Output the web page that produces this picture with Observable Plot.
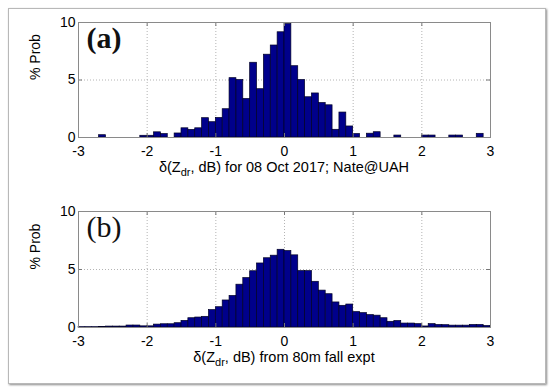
<!DOCTYPE html>
<html><head><meta charset="utf-8">
<script src="https://cdn.jsdelivr.net/npm/d3@7"></script>
<script src="https://cdn.jsdelivr.net/npm/@observablehq/plot@0.6"></script>
<style>
body{margin:0;background:#fff;}
#fig{position:relative;width:550px;height:390px;background:#fff;font-family:"Liberation Sans",Arial,sans-serif;overflow:hidden;}
#border{position:absolute;left:8px;top:8px;width:536px;height:374px;border:1px solid #b8b8b8;box-shadow:1px 1px 2px #8a8a8a;}
.panel{position:absolute;left:0;}
</style></head><body><div id="fig"><div id="border"></div></div>
<script>
const binStart = [-3.0,-2.9,-2.8,-2.7,-2.6,-2.5,-2.4,-2.3,-2.2,-2.1,
  -2.0,-1.9,-1.8,-1.7,-1.6,-1.5,-1.4,-1.3,-1.2,-1.1,
  -1.0,-0.9,-0.8,-0.7,-0.6,-0.5,-0.4,-0.3,-0.2,-0.1,
  0.0,0.1,0.2,0.3,0.4,0.5,0.6,0.7,0.8,0.9,
  1.0,1.1,1.2,1.3,1.4,1.5,1.6,1.7,1.8,1.9,
  2.0,2.1,2.2,2.3,2.4,2.5,2.6,2.7,2.8,2.9];
const probA = [0,0,0,0.2,0,0,0,0,0,0.15,
  0.15,0.45,0.3,0,0.35,0.8,0.66,0.8,1.68,1.33,
  1.7,2.46,5.16,5.0,3.35,6.5,4.2,7.2,8.0,9.15,
  9.86,6.2,5.0,3.5,3.83,3.0,2.8,0.67,2.17,0.96,
  0.3,0,0.33,0.46,0,0,0.17,0,0,0,
  0.17,0.17,0,0,0.17,0.17,0,0,0.32,0];
const probB = [0.03,0.03,0.03,0.04,0.08,0.08,0.08,0.17,0.17,0.1,
  0.1,0.25,0.28,0.28,0.37,0.57,0.8,0.86,0.92,1.5,
  1.75,2.33,2.72,3.69,4.26,4.85,5.52,5.97,6.19,6.7,
  6.59,6.22,4.86,4.86,3.94,3.18,2.87,2.16,1.87,1.98,
  1.33,1.24,1.07,1.02,0.8,0.49,0.56,0.34,0.34,0.29,
  0.09,0.29,0.22,0.2,0.16,0.16,0.16,0.22,0.22,0.13];
const xTicks = [-3,-2,-1,0,1,2,3];
const xGrid = [-2,-1,0,1,2];
const yTicks = [0,5,10];
const yGrid = [5];

function panel(probs, tag, bold, labelRest, top, height, mt, mb) {
  const data = binStart.map((x, i) => ({x1: x, x2: x + 0.1, p: probs[i]})).filter(d => d.p > 0);
  const ml = 78, mr = 60;
  const ph = height - mt - mb;
  const svg = Plot.plot({
    width: 550, height, marginLeft: ml, marginRight: mr, marginTop: mt, marginBottom: mb,
    style: {fontFamily: "'Liberation Sans', Arial, sans-serif", fontSize: "14px", color: "#000", background: "transparent", overflow: "visible"},
    x: {domain: [-3, 3]},
    y: {domain: [0, 10]},
    marks: [
      Plot.ruleX(xGrid, {stroke: "#b4b4b4", strokeDasharray: "1,2", strokeWidth: 1}),
      Plot.ruleY(yGrid, {stroke: "#b4b4b4", strokeDasharray: "1,2", strokeWidth: 1}),
      Plot.rectY(data, {x1: "x1", x2: "x2", y: "p", fill: "#00008b", stroke: "#000025", strokeWidth: 0.7}),
      Plot.ruleX(xTicks, {insetTop: ph - 4, stroke: "#777"}),
      Plot.ruleX(xTicks, {insetBottom: ph - 4, stroke: "#777"}),
      Plot.ruleY(yTicks, {insetRight: 408, stroke: "#777"}),
      Plot.ruleY(yTicks, {insetLeft: 408, stroke: "#777"}),
      Plot.frame({stroke: "#8a8a8a"}),
      Plot.axisX({ticks: xTicks, tickSize: 0, tickPadding: 9, tickFormat: d => String(d), label: null, fontSize: 14}),
      Plot.axisY({ticks: yTicks, tickSize: 0, tickPadding: 3, tickFormat: d => String(d), label: null, fontSize: 14}),
      Plot.text(["% Prob"], {frameAnchor: "left", rotate: -90, dx: -43, fontSize: 14, fill: "#000"}),
      Plot.text([tag], {frameAnchor: "top-left", dx: 8, dy: 4, textAnchor: "start", lineAnchor: "top",
        fontSize: 30, fontFamily: "'Liberation Serif', 'Times New Roman', serif", fontWeight: bold ? "bold" : "normal", fill: "#111"})
    ]
  });
  const t = d3.select(svg).append("text")
    .attr("x", ml + (550 - ml - mr) / 2).attr("y", mt + ph + 35)
    .attr("text-anchor", "middle").attr("font-size", 14.5).attr("fill", "#000")
    .attr("font-family", "'Liberation Sans', Arial, sans-serif");
  t.append("tspan").text("δ(Z");
  t.append("tspan").attr("dy", 4).attr("font-size", 11).text("dr");
  t.append("tspan").attr("dy", -4).text(labelRest);
  const div = document.createElement("div");
  div.className = "panel";
  div.style.top = top + "px";
  div.appendChild(svg);
  document.getElementById("fig").appendChild(div);
}
panel(probA, "(a)", true, ", dB) for 08 Oct 2017; Nate@UAH", 0, 190, 22, 53);
panel(probB, "(b)", false, ", dB) from 80m fall expt", 190, 195, 21, 58);
</script></body></html>
